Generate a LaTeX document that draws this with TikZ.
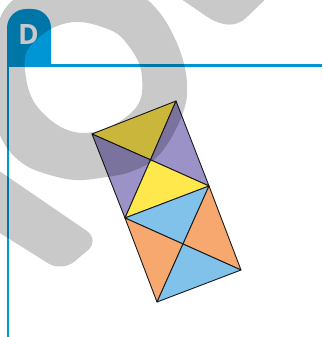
\documentclass[tikz,border=0pt]{standalone}
\usepackage{fontspec}
\newfontfamily\tabfont{Open Sans}
\definecolor{tabblue}{HTML}{0096D6}
\definecolor{tyellow}{HTML}{FFE84C}
\definecolor{tpurple}{HTML}{9B93C8}
\definecolor{tblue}{HTML}{80C2EA}
\definecolor{torange}{HTML}{F7A86E}
\tikzset{
  tri/.style={draw=black!90, line width=0.9pt, line join=round},
  frameline/.style={draw=tabblue, line width=2.5pt},
  wmark/.style={fill=black, fill opacity=0.21}
}
\begin{document}
\begin{tikzpicture}[x=1pt,y=-1pt]
\useasboundingbox (0,0) rectangle (322,337);
% frame
\fill[tabblue] (7,66) [rounded corners=19pt] -- (7,9) -- (51,9) [sharp corners] -- (51,66) -- cycle;
\draw[frameline] (7,65.5) -- (322,65.5);
\draw[frameline] (8.2,65) -- (8.2,337);
\node[text=white, font=\tabfont\bfseries\fontsize{28}{28}\selectfont, anchor=base, inner sep=0pt] (tabD) at (28.5,45) {D};
% vertices
\coordinate (A) at (92,134);
\coordinate (B) at (176,101);
\coordinate (C) at (209,186);
\coordinate (D) at (125,218);
\coordinate (E) at (241,270);
\coordinate (F) at (157,302);
\coordinate (O1) at (150.5,159.8);
\coordinate (O2) at (183,244);
% triangles
\filldraw[tri, fill=tyellow] (A) -- (B) -- (O1) -- cycle;
\filldraw[tri, fill=tpurple] (A) -- (O1) -- (D) -- cycle;
\filldraw[tri, fill=tpurple] (B) -- (C) -- (O1) -- cycle;
\filldraw[tri, fill=tyellow] (D) -- (O1) -- (C) -- cycle;
\filldraw[tri, fill=tblue] (D) -- (C) -- (O2) -- cycle;
\filldraw[tri, fill=torange] (C) -- (E) -- (O2) -- cycle;
\filldraw[tri, fill=torange] (D) -- (O2) -- (F) -- cycle;
\filldraw[tri, fill=tblue] (F) -- (O2) -- (E) -- cycle;
% watermark
\fill[wmark, even odd rule]
  plot[smooth cycle, tension=0.6] coordinates {(8,5) (40,-15) (90,-22) (130,-12) (150,2) (168,25) (183,60) (187,95) (177,127) (157,157) (130,172) (100,178) (75,180) (50,175) (25,165) (5,145) (-6,115) (-9,75) (-5,35)}
  plot[smooth cycle, tension=0.7] coordinates {(25,70) (33,43) (67,23) (105,28) (128,45) (142,77) (132,112) (83,133) (40,110)};
\fill[wmark, rounded corners=16pt] (-40,144) -- (100,240) -- (62,272) -- (-40,208) -- cycle;
\fill[wmark] (168,-10) -- (203,14) .. controls (218,25) and (235,30) .. (248,16) -- (275,-10) -- cycle;
\end{tikzpicture}
\end{document}
